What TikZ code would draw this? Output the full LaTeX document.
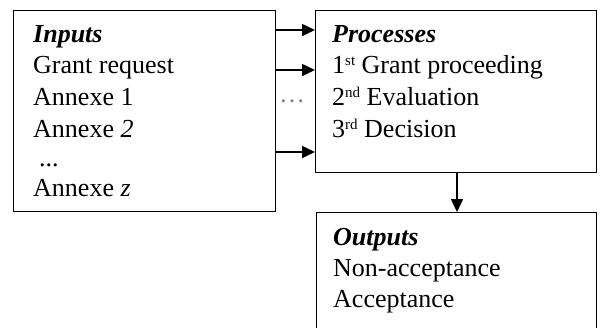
\documentclass[tikz,border=0pt]{standalone}
\usepackage{fontspec}
\setmainfont{Liberation Serif}
\usetikzlibrary{arrows.meta}
\newcommand{\supr}[1]{\raisebox{8pt}{\fontsize{15}{15}\selectfont #1}}
\begin{document}
\begin{tikzpicture}[x=1pt,y=-1pt,
  box/.style={draw, line width=1pt, anchor=north west, inner sep=0pt},
  txt/.style={anchor=base west, inner sep=0pt, font=\fontsize{26}{31.5}\selectfont},
  arr/.style={line width=1.6pt, -{Triangle[length=13pt,width=12pt]}}]
\useasboundingbox (0,0) rectangle (600,327);
% boxes
\node[box, minimum width=262pt, minimum height=201pt] (inbox) at (13,10) {};
\node[box, minimum width=281pt, minimum height=162pt] (procbox) at (315,10) {};
\node[box, minimum width=280pt, minimum height=140pt] (outbox) at (316,212) {};
% inputs text
\node[txt] (in1) at (33,42) {\textbf{\textit{Inputs}}};
\node[txt] (in2) at (33,73) {Grant request};
\node[txt] (in3) at (33,105) {Annexe 1};
\node[txt] (in4) at (33,137) {Annexe \textit{2}};
\node[txt] (in5) at (39,166) {...};
\node[txt] (in6) at (33,196) {Annexe \textit{z}};
% processes text
\node[txt] (pr1) at (332,42) {\textbf{\textit{Processes}}};
\node[txt] (pr2) at (332,73) {1\supr{st} Grant proceeding};
\node[txt] (pr3) at (332,105) {2\supr{nd} Evaluation};
\node[txt] (pr4) at (332,137) {3\supr{rd} Decision};
% outputs text
\node[txt] (ou1) at (333,245) {\textbf{\textit{Outputs}}};
\node[txt] (ou2) at (333,276) {Non-acceptance};
\node[txt] (ou3) at (333,307) {Acceptance};
% gap dots
\node[txt, text=gray] (gap) at (279,102) {\ldots};
% arrows
\draw[arr] ([yshift=-20pt]inbox.north east) -- ([yshift=-20pt]procbox.north west);
\draw[arr] ([yshift=-60pt]inbox.north east) -- ([yshift=-60pt]procbox.north west);
\draw[arr] ([yshift=-142pt]inbox.north east) -- ([yshift=-142pt]procbox.north west);
\draw[arr] ([xshift=1pt]procbox.south) -- ([xshift=1pt]procbox.south |- outbox.north);
\end{tikzpicture}
\end{document}
